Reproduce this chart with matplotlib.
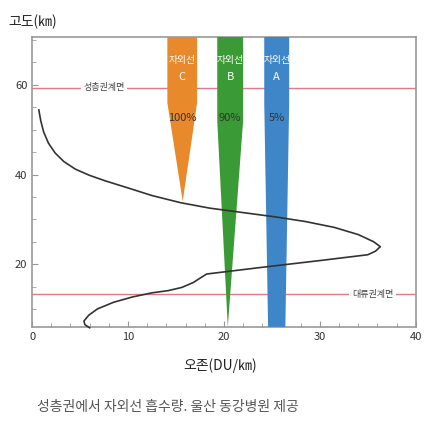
import matplotlib
matplotlib.use("Agg")
import matplotlib.pyplot as plt
from matplotlib.patches import Polygon

plt.rcParams['font.family'] = ['Noto Sans CJK KR', 'DejaVu Sans']

ozone_x = [0.7, 0.9, 1.2, 1.7, 2.4, 3.3, 4.5, 6.0, 7.6, 10.0, 12.5, 15.5, 18.5, 22.0, 25.5, 28.5, 31.5, 34.0, 35.6, 36.3, 35.8, 35.0, 30.0, 24.0, 18.2, 17.6, 16.8, 15.6, 14.2, 12.5, 10.5, 8.5, 6.8, 5.9, 5.4, 5.5, 6.0]
ozone_y = [54.4, 52.0, 49.5, 47.0, 44.8, 42.9, 41.2, 39.8, 38.6, 37.0, 35.3, 33.7, 32.5, 31.5, 30.5, 29.5, 28.2, 26.6, 25.0, 23.9, 22.9, 22.1, 20.8, 19.3, 17.8, 17.0, 15.9, 14.8, 14.1, 13.6, 12.7, 11.5, 10.0, 8.6, 7.3, 6.5, 5.8]

bands = ["C", "B", "A"]
band_pct = ["100%", "90%", "5%"]
band_colors = ["#e8892b", "#3a9a35", "#3f86c8"]
band_left = [14.1, 19.3, 24.2]
band_right = [17.2, 22.0, 26.8]
band_taper_top = [56.0, 52.0, 56.0]
band_bottom = [34.0, 6.0, 6.0]
band_bottom_left = [15.7, 20.4, 24.6]
band_bottom_right = [15.7, 20.4, 26.4]

stratopause = 59.3
tropopause = 13.3

fig = plt.figure(figsize=(4.4, 4.29), dpi=100)
ax = fig.add_axes([0.073, 0.238, 0.872, 0.676])
ax.set_xlim(0, 40)
ax.set_ylim(6, 70.7)
top = 70.7

ax.axhline(stratopause, color="#e07a85", lw=1, zorder=1)
ax.axhline(tropopause, color="#e07a85", lw=1, zorder=1)
ax.text(7.5, stratopause, "성층권계면", ha="center", va="center", fontsize=6.5, color="#444",
        bbox=dict(fc="white", ec="none", pad=2), zorder=2)
ax.text(35.5, tropopause, "대류권계면", ha="center", va="center", fontsize=6.5, color="#444",
        bbox=dict(fc="white", ec="none", pad=2), zorder=2)

for i in range(3):
    pts = [(band_left[i], top), (band_right[i], top), (band_right[i], band_taper_top[i]),
           (band_bottom_right[i], band_bottom[i]), (band_bottom_left[i], band_bottom[i]),
           (band_left[i], band_taper_top[i])]
    ax.add_patch(Polygon(pts, closed=True, fc=band_colors[i], ec="none", zorder=3))
    cx = (band_left[i] + band_right[i]) / 2
    ax.text(cx, 65.6, "자외선", ha="center", va="center", fontsize=7, color="white", zorder=4)
    ax.text(cx, 61.7, bands[i], ha="center", va="center", fontsize=8, color="white", zorder=4)
    ax.text(cx, 52.7, band_pct[i], ha="center", va="center", fontsize=8, color="#333", zorder=4)

ax.plot(ozone_x, ozone_y, color="#333", lw=1.2, zorder=5, clip_on=False)

ax.set_xticks([0, 10, 20, 30, 40])
ax.set_xticks(range(0, 41, 2), minor=True)
ax.set_yticks([20, 40, 60])
ax.set_yticks(range(10, 71, 5), minor=True)
ax.tick_params(which="both", direction="in", color="#999", labelsize=8, labelcolor="#333")
ax.tick_params(which="major", length=4)
ax.tick_params(which="minor", length=3)
for s in ax.spines.values():
    s.set_color("#999")
    s.set_linewidth(1.2)

fig.text(0.02, 0.95, "고도(㎞)", fontsize=10, color="#222", ha="left", va="center")
fig.text(0.5, 0.148, "오존(DU/㎞)", fontsize=10, color="#222", ha="center", va="center")
fig.text(0.085, 0.052, "성층권에서 자외선 흡수량. 울산 동강병원 제공", fontsize=10, color="#555",
         ha="left", va="center")

fig.savefig("out.png", dpi=100)
